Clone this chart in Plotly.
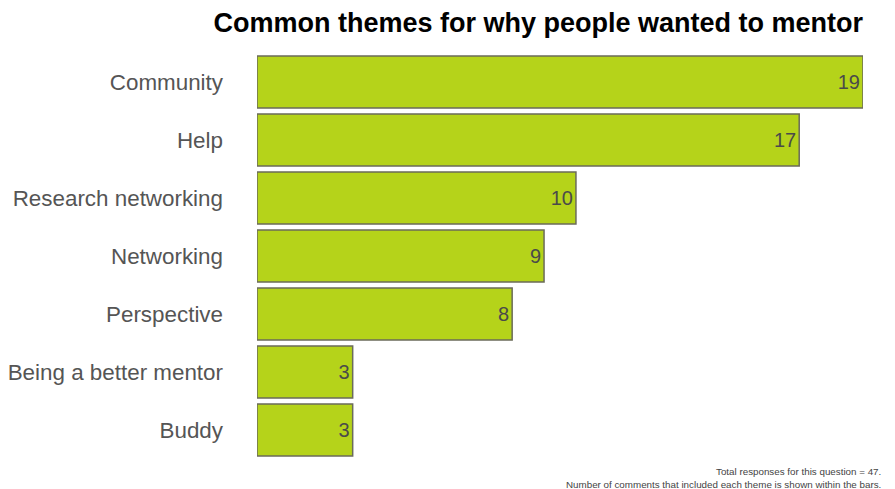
import plotly.graph_objects as go

categories = ["Community", "Help", "Research networking", "Networking",
              "Perspective", "Being a better mentor", "Buddy"]
counts = [19, 17, 10, 9, 8, 3, 3]
title_text = "Common themes for why people wanted to mentor"
caption_lines = ["Total responses for this question = 47.",
                 "Number of comments that included each theme is shown within the bars."]

fig = go.Figure(go.Bar(
    x=counts,
    y=categories,
    orientation="h",
    marker=dict(color="#b5d31a", line=dict(color="#6b6b5a", width=1.5)),
    text=[str(c) for c in counts],
    textposition="inside",
    insidetextanchor="end",
    textfont=dict(size=20, color="#4a4a4a", family="Liberation Sans, Arial, sans-serif"),
    hoverinfo="skip",
))

fig.update_layout(
    width=895, height=489,
    margin=dict(l=257, r=32, t=53, b=30),
    paper_bgcolor="white", plot_bgcolor="white",
    bargap=0.1,
    showlegend=False,
    font=dict(family="Liberation Sans, Arial, sans-serif"),
    title=dict(text="<b>" + title_text + "</b>",
               x=1, xref="paper", xanchor="right",
               y=0.974, yref="container", yanchor="top",
               font=dict(size=27, color="#000000")),
)
fig.update_xaxes(range=[0, 19], visible=False, fixedrange=True)
fig.update_yaxes(autorange="reversed", showgrid=False, zeroline=False, ticks="",
                 ticklabelstandoff=33, automargin=False,
                 tickfont=dict(size=22.4, color="#555555"), showline=False)

fig.add_annotation(
    text="<br>".join(caption_lines),
    xref="paper", yref="paper", x=1.0, y=0, xanchor="right", yanchor="top",
    xshift=20, yshift=-5,
    align="right", showarrow=False,
    font=dict(size=9.8, color="#444444"),
)

fig.write_html("out.html", config={"displayModeBar": False},
               post_script="document.body.style.margin='0';")
